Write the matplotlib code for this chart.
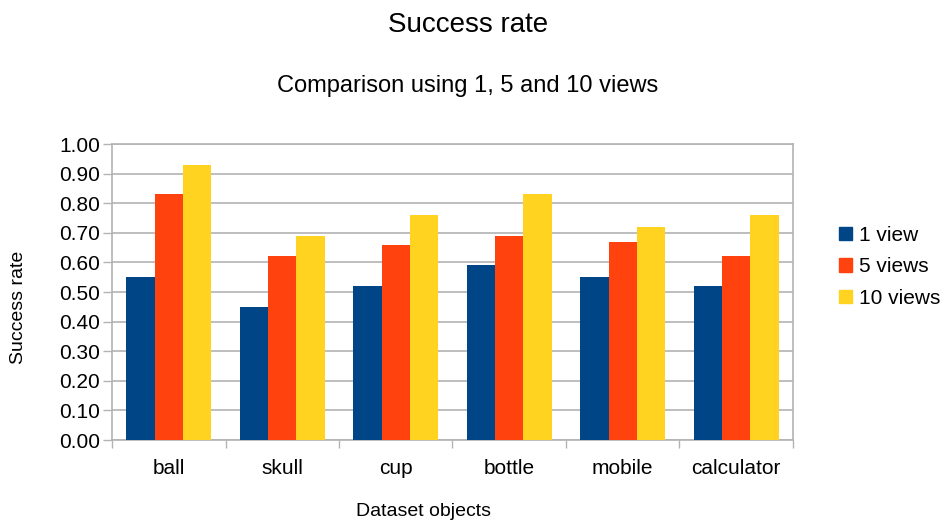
import numpy as np
import matplotlib
matplotlib.use("Agg")
import matplotlib.pyplot as plt
import matplotlib.patches as mpatches

# ── Data ────────────────────────────────────────────────────────────────────
categories = ["ball", "skull", "cup", "bottle", "mobile", "calculator"]
series_names = ["1 view", "5 views", "10 views"]
view1 = [0.55, 0.45, 0.52, 0.59, 0.55, 0.52]
view5 = [0.83, 0.62, 0.66, 0.69, 0.67, 0.62]
view10 = [0.93, 0.69, 0.76, 0.83, 0.72, 0.76]
y_ticks = [0.0, 0.1, 0.2, 0.3, 0.4, 0.5, 0.6, 0.7, 0.8, 0.9, 1.0]

# ── Style (LibreOffice defaults) ────────────────────────────────────────────
BLUE = "#004586"
ORANGE = "#ff420e"
YELLOW = "#ffd320"
GRID = "#b3b3b3"
TEXT = "#000000"

plt.rcParams.update(
    {
        "font.family": ["Liberation Sans", "DejaVu Sans"],
        "font.size": 15,
        "text.color": TEXT,
    }
)

W, H = 942, 521
fig = plt.figure(figsize=(W / 100, H / 100), dpi=100)
fig.patch.set_facecolor("white")

# plot area in pixels: x 112..793, y 144..440
ax = fig.add_axes([112 / W, 1 - 440 / H, (793 - 112) / W, (440 - 144) / H])

x = np.arange(len(categories))
bw = 0.25
colors = [BLUE, ORANGE, YELLOW]
for i, (vals, col) in enumerate(zip([view1, view5, view10], colors)):
    ax.bar(x + (i - 1) * bw, vals, width=bw, color=col, zorder=3, linewidth=0)

ax.set_xlim(-0.5, len(categories) - 0.5)
ax.set_ylim(0, 1.0)
ax.set_yticks(y_ticks)
ax.set_yticklabels([f"{v:.2f}" for v in y_ticks])
ax.yaxis.grid(True, color=GRID, linewidth=1.2, zorder=0)

# category boundaries as major ticks, labels centred on minor ticks
ax.set_xticks(np.arange(-0.5, len(categories), 1.0))
ax.set_xticklabels([])
ax.set_xticks(x, minor=True)
ax.set_xticklabels(categories, minor=True)
ax.tick_params(axis="x", which="major", length=6, width=1, color=GRID, direction="out")
ax.tick_params(axis="x", which="minor", length=0, pad=14)
ax.tick_params(axis="y", length=6.5, width=1, color=GRID, direction="out", pad=2)

for sp in ax.spines.values():
    sp.set_color(GRID)
    sp.set_linewidth(1.2)

# titles and axis labels
fig.text(468 / W, 1 - 25 / H, "Success rate", ha="center", va="center", fontsize=20)
fig.text(468 / W, 1 - 86 / H, "Comparison using 1, 5 and 10 views",
         ha="center", va="center", fontsize=17)
fig.text(424 / W, 1 - 511 / H, "Dataset objects", ha="center", va="center", fontsize=14)
fig.text(19 / W, 1 - 307 / H, "Success rate", ha="center", va="center",
         rotation=90, fontsize=14)

handles = [mpatches.Patch(color=c, label=n) for c, n in zip(colors, series_names)]
fig.legend(
    handles=handles,
    loc="center left",
    bbox_to_anchor=(839 / W, 1 - 267 / H),
    frameon=False,
    fontsize=15,
    handlelength=0.63,
    handleheight=0.63,
    handletextpad=0.35,
    labelspacing=0.6,
    borderpad=0,
    borderaxespad=0,
)

fig.savefig("out.png", dpi=100)
